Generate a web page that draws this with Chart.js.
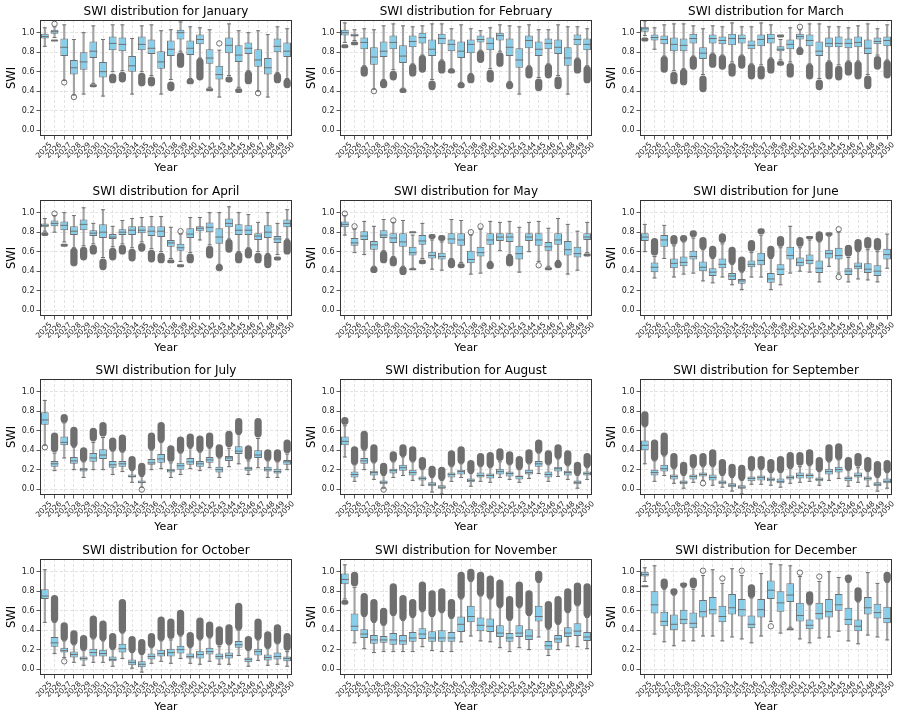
<!DOCTYPE html>
<html>
<head>
<meta charset="utf-8">
<script src="https://cdn.jsdelivr.net/npm/chart.js@4/dist/chart.umd.min.js"></script>
<style>
  body { margin: 0; background: #fff; }
  #fig { position: relative; width: 900px; height: 719px; }
  .panel { position: absolute; width: 300px; height: 180px; }
</style>
</head>
<body>
<div id="fig"></div>
<script>
const years = [2025, 2026, 2027, 2028, 2029, 2030, 2031, 2032, 2033, 2034, 2035, 2036, 2037,
  2038, 2039, 2040, 2041, 2042, 2043, 2044, 2045, 2046, 2047, 2048, 2049, 2050]
const months = ['January', 'February', 'March', 'April', 'May', 'June', 'July',
  'August', 'September', 'October', 'November', 'December']
const yTicks = [0, 0.2, 0.4, 0.6, 0.8, 1.0]

// per year: [whisker low, q1, median, q3, whisker high]
const janStats = [[0.86,0.94,0.96,0.99,1.05],[0.95,0.99,1.01,1.03,1.06],[0.51,0.76,0.85,0.94,1.08],[0.36,0.57,0.64,0.72,0.93],[0.37,0.62,0.70,0.80,1.00],[0.48,0.74,0.81,0.91,1.07],[0.35,0.54,0.60,0.70,0.93],[0.60,0.82,0.89,0.96,1.08],[0.61,0.81,0.88,0.95,1.08],[0.37,0.60,0.66,0.76,0.94],[0.60,0.82,0.88,0.96,1.07],[0.56,0.78,0.84,0.93,1.08],[0.37,0.63,0.70,0.81,1.02],[0.52,0.76,0.83,0.92,1.03],[0.81,0.93,1.00,1.03,1.11],[0.53,0.77,0.84,0.92,1.06],[0.74,0.88,0.93,0.98,1.05],[0.44,0.68,0.74,0.83,1.03],[0.34,0.52,0.57,0.66,0.82],[0.56,0.79,0.87,0.95,1.09],[0.44,0.70,0.77,0.87,1.02],[0.61,0.78,0.84,0.90,1.00],[0.40,0.65,0.72,0.83,1.02],[0.34,0.57,0.64,0.74,0.98],[0.59,0.80,0.86,0.94,1.06],[0.53,0.75,0.81,0.90,1.04]]
const febStats = [[0.90,0.97,1.00,1.03,1.10],[0.92,0.96,0.97,0.99,1.03],[0.66,0.83,0.90,0.95,1.04],[0.42,0.67,0.75,0.85,1.03],[0.52,0.75,0.81,0.91,1.07],[0.62,0.83,0.90,0.97,1.09],[0.43,0.69,0.76,0.87,1.07],[0.68,0.85,0.91,0.97,1.06],[0.77,0.89,0.95,1.00,1.07],[0.52,0.76,0.83,0.93,1.09],[0.72,0.88,0.94,0.99,1.09],[0.63,0.81,0.88,0.93,1.04],[0.49,0.74,0.81,0.91,1.08],[0.58,0.79,0.88,0.93,1.04],[0.82,0.90,0.93,0.97,1.02],[0.63,0.82,0.89,0.95,1.05],[0.81,0.92,0.97,1.00,1.08],[0.50,0.76,0.85,0.94,1.07],[0.37,0.64,0.72,0.84,1.06],[0.66,0.84,0.92,0.97,1.08],[0.54,0.76,0.83,0.91,1.03],[0.68,0.83,0.89,0.94,1.03],[0.56,0.78,0.85,0.93,1.08],[0.37,0.66,0.74,0.85,1.06],[0.74,0.87,0.93,0.98,1.06],[0.66,0.82,0.88,0.94,1.04]]
const marStats = [[0.97,1.01,1.04,1.06,1.12],[0.83,0.92,0.95,0.98,1.05],[0.76,0.88,0.93,0.97,1.08],[0.61,0.81,0.88,0.95,1.09],[0.63,0.81,0.87,0.94,1.09],[0.76,0.89,0.94,0.99,1.07],[0.57,0.73,0.79,0.85,1.04],[0.79,0.89,0.94,0.98,1.07],[0.77,0.88,0.92,0.96,1.06],[0.70,0.87,0.94,0.99,1.10],[0.77,0.89,0.94,0.98,1.06],[0.68,0.83,0.87,0.92,1.06],[0.67,0.86,0.93,0.98,1.10],[0.74,0.89,0.94,0.99,1.08],[0.72,0.81,0.83,0.86,0.93],[0.70,0.83,0.88,0.93,1.05],[0.85,0.93,0.96,0.99,1.03],[0.68,0.86,0.92,0.98,1.09],[0.53,0.76,0.81,0.91,1.09],[0.71,0.85,0.89,0.95,1.06],[0.67,0.85,0.89,0.96,1.06],[0.71,0.84,0.89,0.94,1.05],[0.71,0.85,0.90,0.96,1.07],[0.57,0.78,0.84,0.93,1.09],[0.77,0.88,0.91,0.95,1.04],[0.72,0.86,0.92,0.96,1.08]]
const aprStats = [[0.81,0.85,0.87,0.89,0.94],[0.80,0.86,0.89,0.92,0.97],[0.70,0.82,0.87,0.91,1.00],[0.64,0.77,0.81,0.86,0.97],[0.66,0.82,0.88,0.93,1.05],[0.68,0.76,0.79,0.82,0.89],[0.54,0.74,0.80,0.88,1.03],[0.65,0.73,0.75,0.78,0.86],[0.68,0.77,0.80,0.83,0.92],[0.64,0.77,0.82,0.86,0.94],[0.70,0.79,0.82,0.86,0.95],[0.63,0.76,0.81,0.86,0.96],[0.60,0.75,0.81,0.86,0.96],[0.53,0.65,0.69,0.72,0.85],[0.50,0.61,0.64,0.68,0.78],[0.59,0.74,0.78,0.84,0.95],[0.72,0.81,0.84,0.86,0.95],[0.67,0.80,0.85,0.90,1.00],[0.47,0.68,0.75,0.84,1.00],[0.73,0.85,0.89,0.94,1.06],[0.60,0.77,0.82,0.88,1.00],[0.64,0.77,0.82,0.87,0.98],[0.60,0.72,0.76,0.79,0.90],[0.58,0.74,0.80,0.87,1.00],[0.57,0.69,0.73,0.76,0.89],[0.73,0.85,0.89,0.93,1.03]]
const mayStats = [[0.77,0.85,0.88,0.91,0.97],[0.59,0.66,0.69,0.74,0.83],[0.57,0.72,0.76,0.81,0.91],[0.45,0.62,0.67,0.71,0.86],[0.61,0.74,0.77,0.82,0.93],[0.55,0.69,0.74,0.79,0.90],[0.45,0.65,0.70,0.79,0.92],[0.43,0.56,0.59,0.65,0.77],[0.53,0.67,0.71,0.77,0.89],[0.42,0.53,0.56,0.60,0.72],[0.41,0.52,0.55,0.59,0.70],[0.53,0.68,0.73,0.79,0.93],[0.49,0.66,0.72,0.79,0.92],[0.37,0.48,0.52,0.61,0.77],[0.38,0.55,0.59,0.65,0.83],[0.50,0.67,0.72,0.79,0.91],[0.61,0.71,0.75,0.79,0.90],[0.57,0.70,0.75,0.79,0.91],[0.39,0.52,0.58,0.66,0.85],[0.60,0.71,0.75,0.79,0.90],[0.50,0.66,0.72,0.79,0.91],[0.45,0.61,0.65,0.70,0.84],[0.51,0.67,0.72,0.79,0.94],[0.37,0.56,0.62,0.71,0.88],[0.41,0.54,0.58,0.65,0.81],[0.59,0.72,0.75,0.79,0.90]]
const junStats = [[0.60,0.71,0.75,0.79,0.88],[0.33,0.39,0.44,0.49,0.55],[0.53,0.65,0.72,0.77,0.87],[0.34,0.43,0.48,0.53,0.66],[0.37,0.45,0.49,0.55,0.70],[0.38,0.52,0.55,0.61,0.74],[0.30,0.40,0.44,0.50,0.62],[0.28,0.35,0.39,0.43,0.53],[0.34,0.43,0.47,0.53,0.68],[0.26,0.31,0.35,0.38,0.47],[0.21,0.27,0.30,0.32,0.39],[0.34,0.44,0.47,0.51,0.59],[0.34,0.46,0.51,0.59,0.77],[0.21,0.28,0.32,0.38,0.53],[0.26,0.36,0.42,0.47,0.64],[0.38,0.52,0.56,0.65,0.86],[0.40,0.45,0.49,0.54,0.64],[0.39,0.47,0.51,0.57,0.72],[0.29,0.38,0.43,0.51,0.70],[0.45,0.53,0.58,0.62,0.76],[0.38,0.52,0.56,0.64,0.80],[0.29,0.36,0.40,0.43,0.54],[0.32,0.42,0.45,0.49,0.60],[0.31,0.38,0.42,0.48,0.62],[0.29,0.35,0.40,0.46,0.60],[0.43,0.52,0.57,0.63,0.78]]
const julStats = [[0.45,0.66,0.71,0.79,0.91],[0.19,0.23,0.26,0.29,0.37],[0.32,0.45,0.48,0.54,0.68],[0.20,0.26,0.29,0.33,0.43],[0.12,0.18,0.20,0.22,0.28],[0.20,0.28,0.32,0.37,0.48],[0.20,0.31,0.35,0.41,0.53],[0.15,0.22,0.25,0.29,0.39],[0.18,0.23,0.26,0.29,0.38],[0.07,0.12,0.13,0.15,0.19],[0.02,0.06,0.07,0.09,0.13],[0.20,0.25,0.27,0.31,0.40],[0.21,0.27,0.31,0.36,0.48],[0.12,0.17,0.19,0.21,0.27],[0.15,0.20,0.24,0.27,0.37],[0.21,0.25,0.28,0.32,0.42],[0.19,0.23,0.26,0.29,0.38],[0.22,0.27,0.30,0.33,0.42],[0.12,0.17,0.20,0.23,0.32],[0.23,0.29,0.32,0.34,0.42],[0.26,0.36,0.39,0.44,0.56],[0.15,0.19,0.21,0.23,0.29],[0.22,0.32,0.35,0.40,0.52],[0.12,0.18,0.20,0.23,0.29],[0.12,0.16,0.18,0.21,0.28],[0.20,0.25,0.28,0.30,0.36]]
const augStats = [[0.33,0.45,0.49,0.54,0.65],[0.08,0.12,0.15,0.18,0.25],[0.20,0.26,0.29,0.32,0.40],[0.10,0.14,0.17,0.19,0.27],[0.01,0.05,0.07,0.09,0.14],[0.12,0.16,0.19,0.21,0.28],[0.14,0.19,0.22,0.25,0.33],[0.09,0.14,0.17,0.20,0.28],[0.04,0.09,0.11,0.13,0.20],[-0.03,0.03,0.05,0.07,0.12],[-0.05,0.00,0.02,0.04,0.09],[0.08,0.12,0.15,0.17,0.23],[0.12,0.15,0.18,0.20,0.26],[0.03,0.07,0.09,0.11,0.16],[0.08,0.12,0.14,0.17,0.23],[0.07,0.11,0.14,0.16,0.22],[0.12,0.15,0.18,0.21,0.28],[0.10,0.13,0.16,0.18,0.25],[0.07,0.10,0.13,0.14,0.20],[0.11,0.15,0.17,0.20,0.26],[0.16,0.23,0.26,0.29,0.37],[0.08,0.12,0.15,0.18,0.25],[0.13,0.18,0.21,0.23,0.31],[0.10,0.14,0.17,0.19,0.24],[0.01,0.05,0.07,0.09,0.14],[0.10,0.14,0.16,0.18,0.22]]
const sepStats = [[0.26,0.40,0.45,0.50,0.64],[0.08,0.14,0.17,0.20,0.29],[0.14,0.18,0.21,0.25,0.34],[0.06,0.10,0.13,0.15,0.21],[0.01,0.05,0.07,0.09,0.14],[0.07,0.10,0.13,0.15,0.22],[0.09,0.13,0.15,0.17,0.23],[0.04,0.09,0.12,0.15,0.23],[0.02,0.05,0.07,0.09,0.14],[-0.02,0.02,0.04,0.06,0.12],[-0.05,0.00,0.02,0.04,0.09],[0.05,0.08,0.11,0.13,0.19],[0.05,0.09,0.12,0.14,0.20],[0.04,0.08,0.10,0.12,0.17],[0.02,0.06,0.08,0.11,0.17],[0.06,0.10,0.12,0.14,0.21],[0.07,0.11,0.14,0.17,0.23],[0.08,0.11,0.14,0.16,0.24],[0.04,0.08,0.10,0.12,0.18],[0.09,0.15,0.18,0.21,0.28],[0.11,0.17,0.20,0.23,0.30],[0.03,0.08,0.11,0.13,0.19],[0.07,0.12,0.14,0.17,0.22],[0.03,0.09,0.11,0.13,0.18],[-0.02,0.03,0.05,0.07,0.12],[0.01,0.06,0.08,0.11,0.17]]
const octStats = [[0.48,0.72,0.75,0.82,1.02],[0.16,0.23,0.27,0.33,0.48],[0.12,0.17,0.19,0.22,0.29],[0.07,0.12,0.15,0.18,0.25],[0.04,0.09,0.11,0.13,0.19],[0.07,0.13,0.17,0.21,0.31],[0.07,0.13,0.16,0.20,0.29],[0.03,0.08,0.10,0.13,0.20],[0.11,0.17,0.21,0.26,0.37],[0.01,0.04,0.07,0.10,0.17],[-0.03,0.02,0.05,0.08,0.15],[0.06,0.10,0.13,0.16,0.22],[0.08,0.13,0.16,0.20,0.29],[0.06,0.13,0.17,0.21,0.30],[0.11,0.16,0.20,0.24,0.34],[0.06,0.11,0.13,0.16,0.22],[0.05,0.11,0.15,0.19,0.30],[0.08,0.15,0.18,0.22,0.32],[0.05,0.10,0.13,0.16,0.23],[0.05,0.11,0.14,0.17,0.25],[0.14,0.22,0.25,0.29,0.40],[0.03,0.07,0.10,0.12,0.19],[0.09,0.14,0.18,0.21,0.30],[0.04,0.09,0.12,0.15,0.21],[0.05,0.10,0.13,0.17,0.26],[0.03,0.08,0.11,0.13,0.18]]
const novStats = [[0.72,0.87,0.92,0.98,1.07],[0.27,0.39,0.44,0.57,0.84],[0.21,0.32,0.36,0.41,0.54],[0.17,0.26,0.30,0.35,0.48],[0.18,0.27,0.30,0.34,0.45],[0.18,0.25,0.30,0.37,0.55],[0.18,0.25,0.29,0.35,0.50],[0.18,0.28,0.32,0.38,0.53],[0.23,0.31,0.36,0.42,0.59],[0.19,0.28,0.32,0.39,0.54],[0.18,0.28,0.32,0.40,0.58],[0.18,0.28,0.32,0.38,0.52],[0.28,0.38,0.46,0.54,0.72],[0.34,0.48,0.54,0.65,0.90],[0.29,0.39,0.45,0.53,0.75],[0.28,0.38,0.44,0.52,0.72],[0.22,0.33,0.37,0.45,0.63],[0.18,0.28,0.32,0.37,0.50],[0.22,0.33,0.37,0.45,0.63],[0.20,0.30,0.34,0.41,0.55],[0.33,0.49,0.54,0.65,0.89],[0.14,0.20,0.24,0.29,0.41],[0.20,0.27,0.31,0.35,0.46],[0.24,0.33,0.37,0.43,0.58],[0.23,0.34,0.39,0.47,0.65],[0.21,0.29,0.33,0.38,0.53]]
const decStats = [[0.90,0.95,0.97,1.00,1.04],[0.36,0.57,0.66,0.80,1.06],[0.28,0.44,0.49,0.59,0.82],[0.24,0.40,0.46,0.56,0.76],[0.29,0.46,0.51,0.61,0.84],[0.29,0.42,0.47,0.58,0.82],[0.34,0.53,0.59,0.71,0.96],[0.34,0.56,0.61,0.74,1.02],[0.29,0.48,0.54,0.65,0.88],[0.33,0.56,0.63,0.77,1.03],[0.31,0.54,0.61,0.72,0.96],[0.27,0.42,0.46,0.55,0.73],[0.34,0.53,0.61,0.72,0.98],[0.49,0.72,0.81,0.91,1.08],[0.37,0.59,0.68,0.80,1.07],[0.43,0.69,0.76,0.88,1.06],[0.31,0.49,0.55,0.68,0.95],[0.27,0.41,0.45,0.51,0.66],[0.32,0.51,0.57,0.68,0.90],[0.33,0.53,0.59,0.72,1.00],[0.39,0.60,0.66,0.77,0.94],[0.29,0.45,0.51,0.63,0.89],[0.26,0.39,0.44,0.51,0.69],[0.35,0.56,0.63,0.74,0.99],[0.33,0.52,0.58,0.67,0.88],[0.30,0.47,0.52,0.64,0.89]]

// outliers: [year, from, to]; from == to is a lone circle, otherwise a dense stack
const janOut = [[2026,0.91,0.93],[2026,1.09,1.09],[2027,0.49,0.49],[2028,0.34,0.34],[2030,0.44,0.47],[2032,0.48,0.58],[2033,0.49,0.60],[2035,0.45,0.59],[2036,0.45,0.55],[2038,0.40,0.50],[2039,0.64,0.80],[2040,0.47,0.53],[2041,0.51,0.74],[2042,0.40,0.43],[2043,0.89,0.89],[2044,0.49,0.55],[2045,0.38,0.43],[2046,0.47,0.61],[2047,0.38,0.38],[2049,0.48,0.59],[2050,0.43,0.53]]
const febOut = [[2025,0.84,0.88],[2026,0.87,0.91],[2027,0.55,0.66],[2028,0.40,0.40],[2029,0.43,0.52],[2030,0.51,0.61],[2031,0.38,0.43],[2032,0.55,0.68],[2033,0.59,0.77],[2034,0.41,0.51],[2035,0.58,0.72],[2036,0.58,0.63],[2037,0.43,0.49],[2038,0.48,0.58],[2039,0.69,0.82],[2040,0.49,0.62],[2041,0.65,0.80],[2042,0.42,0.50],[2044,0.53,0.66],[2045,0.40,0.53],[2046,0.53,0.68],[2047,0.42,0.55],[2049,0.58,0.74],[2050,0.48,0.66]]
const marOut = [[2025,0.91,0.95],[2027,0.59,0.76],[2028,0.47,0.60],[2029,0.46,0.63],[2030,0.62,0.76],[2031,0.39,0.56],[2032,0.64,0.79],[2033,0.62,0.77],[2034,0.55,0.69],[2035,0.63,0.77],[2036,0.52,0.68],[2037,0.52,0.66],[2038,0.58,0.74],[2039,0.66,0.71],[2039,0.95,0.98],[2040,0.54,0.69],[2041,0.77,0.85],[2041,1.06,1.06],[2042,0.52,0.68],[2043,0.41,0.52],[2044,0.52,0.71],[2045,0.51,0.66],[2046,0.56,0.71],[2047,0.52,0.71],[2048,0.42,0.56],[2049,0.62,0.76],[2050,0.53,0.72]]
const aprOut = [[2025,0.76,0.80],[2026,0.99,0.99],[2027,0.65,0.68],[2028,0.45,0.64],[2029,0.51,0.65],[2030,0.57,0.67],[2031,0.41,0.53],[2032,0.51,0.64],[2033,0.57,0.67],[2034,0.50,0.63],[2035,0.60,0.69],[2036,0.49,0.62],[2037,0.48,0.59],[2038,0.48,0.52],[2039,0.44,0.47],[2039,0.81,0.81],[2040,0.48,0.58],[2042,0.53,0.66],[2043,0.40,0.47],[2044,0.59,0.73],[2045,0.48,0.60],[2046,0.53,0.64],[2047,0.48,0.59],[2048,0.43,0.58],[2049,0.51,0.55],[2050,0.57,0.73]]
const mayOut = [[2025,0.99,0.99],[2026,0.86,0.86],[2028,0.38,0.45],[2029,0.48,0.61],[2030,0.45,0.55],[2030,0.92,0.92],[2031,0.36,0.45],[2032,0.41,0.43],[2032,0.79,0.81],[2033,0.47,0.52],[2034,0.73,0.78],[2035,0.71,0.77],[2036,0.43,0.53],[2037,0.43,0.48],[2038,0.80,0.80],[2039,0.86,0.86],[2040,0.42,0.50],[2042,0.45,0.57],[2045,0.46,0.46],[2046,0.41,0.44],[2047,0.43,0.51],[2050,0.55,0.58]]
const junOut = [[2026,0.56,0.74],[2028,0.67,0.77],[2029,0.70,0.77],[2030,0.75,0.82],[2031,0.62,0.75],[2032,0.53,0.66],[2033,0.69,0.79],[2034,0.47,0.65],[2035,0.39,0.55],[2036,0.60,0.72],[2037,0.78,0.84],[2038,0.53,0.66],[2039,0.65,0.76],[2041,0.65,0.75],[2042,0.73,0.76],[2043,0.70,0.81],[2044,0.76,0.80],[2045,0.34,0.34],[2045,0.83,0.83],[2046,0.55,0.67],[2047,0.60,0.73],[2048,0.63,0.75],[2049,0.61,0.74]]
const julOut = [[2025,0.43,0.43],[2026,0.38,0.58],[2027,0.68,0.77],[2028,0.43,0.64],[2029,0.28,0.43],[2030,0.49,0.63],[2031,0.54,0.69],[2032,0.39,0.53],[2033,0.38,0.56],[2034,0.19,0.34],[2035,0.13,0.27],[2035,-0.005,-0.005],[2036,0.40,0.58],[2037,0.48,0.69],[2038,0.28,0.45],[2039,0.37,0.54],[2040,0.42,0.57],[2041,0.38,0.55],[2042,0.42,0.58],[2043,0.32,0.46],[2044,0.43,0.60],[2045,0.56,0.73],[2046,0.30,0.45],[2047,0.53,0.73],[2048,0.29,0.41],[2049,0.28,0.41],[2050,0.37,0.51]]
const augOut = [[2025,0.66,0.74],[2026,0.25,0.44],[2027,0.40,0.60],[2028,0.27,0.46],[2029,0.14,0.27],[2029,-0.005,-0.005],[2030,0.28,0.39],[2031,0.33,0.46],[2032,0.28,0.44],[2033,0.20,0.33],[2034,0.12,0.24],[2035,0.09,0.23],[2036,0.23,0.40],[2037,0.26,0.44],[2038,0.16,0.30],[2039,0.23,0.37],[2040,0.22,0.38],[2041,0.29,0.42],[2042,0.25,0.39],[2043,0.20,0.34],[2044,0.26,0.41],[2045,0.37,0.51],[2046,0.25,0.40],[2047,0.31,0.46],[2048,0.24,0.40],[2049,0.14,0.28],[2050,0.22,0.37]]
const sepOut = [[2025,0.64,0.80],[2026,0.29,0.51],[2027,0.34,0.58],[2028,0.21,0.37],[2029,0.14,0.28],[2030,0.22,0.36],[2031,0.23,0.37],[2031,0.06,0.06],[2032,0.23,0.41],[2033,0.14,0.31],[2034,0.12,0.26],[2035,0.09,0.25],[2036,0.19,0.34],[2037,0.20,0.34],[2038,0.17,0.31],[2039,0.17,0.34],[2040,0.21,0.38],[2041,0.24,0.38],[2042,0.24,0.41],[2043,0.18,0.33],[2044,0.28,0.46],[2045,0.30,0.47],[2046,0.19,0.33],[2047,0.23,0.37],[2048,0.18,0.33],[2049,0.12,0.29],[2050,0.17,0.30]]
const octOut = [[2026,0.48,0.76],[2027,0.29,0.48],[2027,0.08,0.08],[2028,0.25,0.40],[2029,0.19,0.35],[2030,0.31,0.55],[2031,0.29,0.50],[2032,0.20,0.37],[2033,0.37,0.72],[2034,0.17,0.34],[2035,0.15,0.31],[2036,0.22,0.37],[2037,0.29,0.54],[2038,0.31,0.52],[2039,0.34,0.61],[2040,0.22,0.38],[2041,0.30,0.53],[2042,0.32,0.49],[2043,0.24,0.44],[2044,0.25,0.46],[2045,0.40,0.68],[2046,0.19,0.34],[2047,0.30,0.52],[2048,0.21,0.39],[2049,0.26,0.46],[2050,0.19,0.37]]
const novOut = [[2025,0.66,0.71],[2026,0.85,1.00],[2027,0.54,0.78],[2028,0.48,0.72],[2029,0.45,0.63],[2030,0.55,0.88],[2031,0.50,0.76],[2032,0.53,0.72],[2033,0.59,0.90],[2034,0.54,0.81],[2035,0.58,0.83],[2036,0.52,0.72],[2037,0.72,1.00],[2038,0.90,1.03],[2039,0.75,1.00],[2040,0.72,0.96],[2041,0.63,0.92],[2042,0.50,0.75],[2043,0.63,0.90],[2044,0.55,0.81],[2045,0.89,1.01],[2046,0.41,0.70],[2047,0.46,0.75],[2048,0.58,0.83],[2049,0.65,0.89],[2050,0.53,0.88]]
const decOut = [[2025,0.84,0.86],[2027,0.82,0.93],[2028,0.76,0.83],[2029,0.84,0.89],[2030,0.83,0.94],[2031,1.01,1.01],[2033,0.93,0.93],[2035,1.01,1.01],[2036,0.73,0.87],[2038,0.44,0.44],[2040,0.40,0.42],[2041,0.99,0.99],[2042,0.66,0.80],[2043,0.95,0.95],[2046,0.89,0.97],[2047,0.69,0.84],[2050,0.89,1.00]]

const allStats = [janStats, febStats, marStats, aprStats, mayStats, junStats,
  julStats, augStats, sepStats, octStats, novStats, decStats]
const allOut = [janOut, febOut, marOut, aprOut, mayOut, junOut,
  julOut, augOut, sepOut, octOut, novOut, decOut]

const BOX = '#87ceeb'
const LINE = '#6f6f6f'
Chart.defaults.font.family = 'DejaVu Sans'

// matplotlib-like frame round the axes
const frame = {
  id: 'frame',
  afterDraw(chart) {
    const { ctx, chartArea: a } = chart
    ctx.save()
    ctx.strokeStyle = '#333'
    ctx.lineWidth = 1
    ctx.strokeRect(a.left + 0.5, a.top + 0.5, a.right - a.left - 1, a.bottom - a.top - 1)
    ctx.restore()
  },
}

const round = { topLeft: 4, topRight: 4, bottomLeft: 4, bottomRight: 4 }

function buildDatasets(stats, outs) {
  const col = k => stats.map(r => r[k])
  const stackA = years.map(() => null)
  const stackB = years.map(() => null)
  const lone = years.map(() => null)
  const loneB = years.map(() => null)
  outs.forEach(([yr, a, b]) => {
    const j = years.indexOf(yr)
    if (a === b) {
      if (lone[j] === null) lone[j] = a
      else loneB[j] = a
    } else if (stackA[j] === null) {
      stackA[j] = [a, b]
    } else {
      stackB[j] = [a, b]
    }
  })
  const stack = data => ({
    type: 'bar', data, backgroundColor: LINE, borderWidth: 0,
    borderRadius: round, borderSkipped: false,
    barPercentage: 0.75, categoryPercentage: 1, grouped: false, order: 6,
  })
  const marks = (data, radius, order) => ({
    type: 'line', data, showLine: false, pointStyle: 'line',
    pointRadius: radius, pointBorderColor: LINE, pointBorderWidth: 1, order,
  })
  const circles = data => ({
    type: 'line', data, showLine: false, pointStyle: 'circle',
    pointRadius: 2.7, pointBackgroundColor: 'rgba(0,0,0,0)',
    pointBorderColor: LINE, pointBorderWidth: 1, order: 0,
  })
  return [
    stack(stackA),
    stack(stackB),
    {
      type: 'bar', data: stats.map(r => [r[0], r[4]]), backgroundColor: '#a3a3a3',
      barThickness: 1.5, grouped: false, order: 5,
    },
    marks(col(0), 2, 4),
    marks(col(4), 2, 4),
    {
      type: 'bar', data: stats.map(r => [r[1], r[3]]), backgroundColor: BOX,
      borderColor: LINE, borderWidth: 1, borderSkipped: false,
      barPercentage: 0.8, categoryPercentage: 1, grouped: false, order: 2,
    },
    marks(col(2), 3.9, 1),
    circles(lone),
    circles(loneB),
  ]
}

const fig = document.getElementById('fig')
months.forEach((month, i) => {
  const div = document.createElement('div')
  div.className = 'panel'
  div.style.left = (i % 3) * 300 + 'px'
  div.style.top = Math.floor(i / 3) * 179.7 + 'px'
  const canvas = document.createElement('canvas')
  canvas.width = 300
  canvas.height = 180
  div.appendChild(canvas)
  fig.appendChild(div)

  new Chart(canvas, {
    type: 'bar',
    data: {
      labels: years.map(String),
      datasets: buildDatasets(allStats[i], allOut[i]),
    },
    options: {
      responsive: false,
      animation: false,
      events: [],
      layout: { padding: { left: 0, right: 8, top: 0, bottom: 0 } },
      plugins: {
        legend: { display: false },
        tooltip: { enabled: false },
        title: {
          display: true,
          fullSize: false,
          text: 'SWI distribution for ' + month,
          color: '#000',
          font: { size: 12, weight: 'normal' },
          padding: { top: 5, bottom: 0.6 },
        },
      },
      scales: {
        x: {
          offset: true,
          grid: {
            offset: false, color: '#dcdcdc', lineWidth: 0.8,
            tickLength: 3.5, tickColor: '#333', tickWidth: 0.8,
          },
          border: { display: false, dash: [3, 2] },
          ticks: {
            autoSkip: false, minRotation: 45, maxRotation: 45,
            labelOffset: 6, padding: 1, color: '#222', font: { size: 7.5 },
          },
          title: {
            display: true, text: 'Year', color: '#000',
            font: { size: 11 }, padding: { top: 0, bottom: 5 },
          },
          afterFit: s => { s.height = 44 },
        },
        y: {
          min: -0.06,
          max: 1.13,
          afterBuildTicks: s => { s.ticks = yTicks.map(v => ({ value: v })) },
          grid: {
            color: '#dcdcdc', lineWidth: 0.8,
            tickLength: 3.5, tickColor: '#333', tickWidth: 0.8,
          },
          border: { display: false, dash: [3, 2] },
          ticks: {
            padding: 2, color: '#222', font: { size: 8 },
            callback: v => Number(v).toFixed(1),
          },
          title: {
            display: true, text: 'SWI', color: '#000',
            font: { size: 11.5 }, padding: { top: 5, bottom: 0 },
          },
          afterFit: s => { s.width = 40 },
        },
      },
    },
    plugins: [frame],
  })
})
</script>
</body>
</html>
